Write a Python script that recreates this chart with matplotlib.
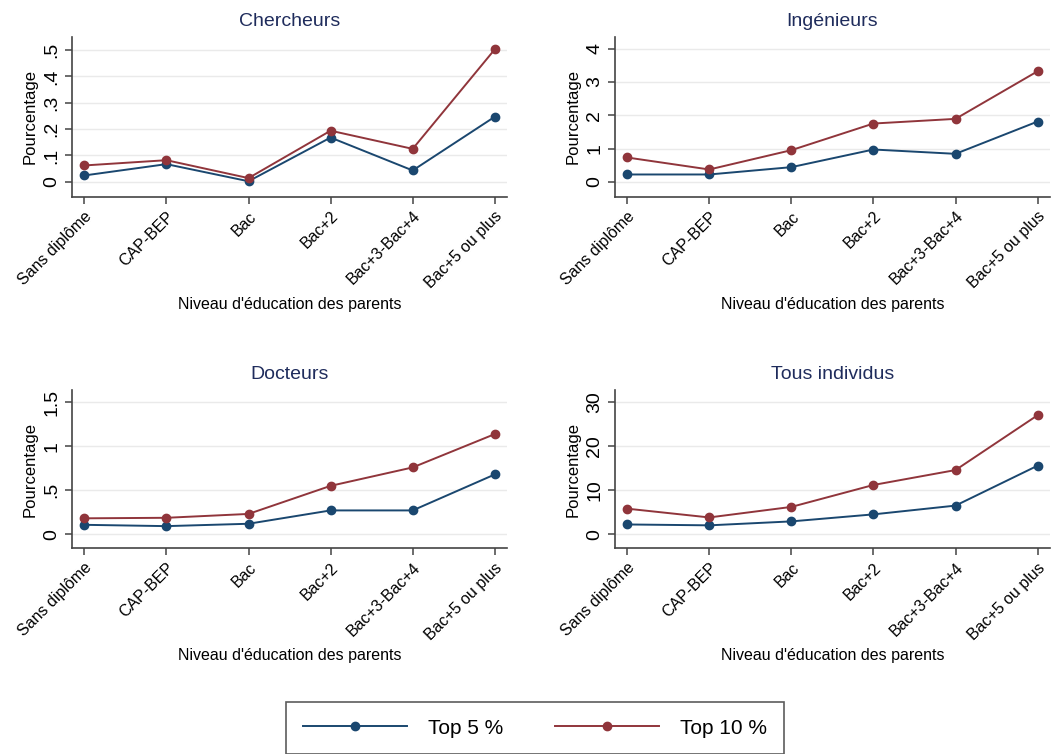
import matplotlib
matplotlib.use("Agg")
import matplotlib.pyplot as plt

plt.rcParams['font.family'] = ['Liberation Sans', 'DejaVu Sans']

categories = ['Sans diplôme', 'CAP-BEP', 'Bac', 'Bac+2', 'Bac+3-Bac+4', 'Bac+5 ou plus']

titles = ['Chercheurs', 'Ingénieurs', 'Docteurs', 'Tous individus']

chercheurs_top5 = [0.024, 0.067, 0.002, 0.168, 0.043, 0.247]
chercheurs_top10 = [0.062, 0.082, 0.014, 0.194, 0.125, 0.503]
ingenieurs_top5 = [0.22, 0.22, 0.44, 0.97, 0.84, 1.81]
ingenieurs_top10 = [0.73, 0.37, 0.95, 1.75, 1.89, 3.32]
docteurs_top5 = [0.106, 0.091, 0.118, 0.27, 0.27, 0.68]
docteurs_top10 = [0.18, 0.186, 0.23, 0.55, 0.76, 1.14]
tous_top5 = [2.2, 2.0, 2.9, 4.5, 6.5, 15.6]
tous_top10 = [5.8, 3.8, 6.2, 11.2, 14.6, 27.1]

yticks_list = [[0, 0.1, 0.2, 0.3, 0.4, 0.5], [0, 1, 2, 3, 4], [0, 0.5, 1, 1.5], [0, 10, 20, 30]]
ytick_labels = [['0', '.1', '.2', '.3', '.4', '.5'], ['0', '1', '2', '3', '4'],
                ['0', '.5', '1', '1.5'], ['0', '10', '20', '30']]
ylims = [(-0.057, 0.55), (-0.45, 4.35), (-0.16, 1.64), (-3.2, 32.8)]

series5 = [chercheurs_top5, ingenieurs_top5, docteurs_top5, tous_top5]
series10 = [chercheurs_top10, ingenieurs_top10, docteurs_top10, tous_top10]

navy = '#1a476f'
maroon = '#90353b'
title_col = '#1f2c5c'

fig = plt.figure(figsize=(10.51, 7.54), dpi=100)

positions = [[0.0685, 0.739, 0.414, 0.212], [0.585, 0.739, 0.414, 0.212],
             [0.0685, 0.273, 0.414, 0.2095], [0.585, 0.273, 0.414, 0.2095]]

x = list(range(len(categories)))
for i in range(4):
    ax = fig.add_axes(positions[i])
    l1, = ax.plot(x, series5[i], color=navy, marker='o', markersize=6, lw=1.4, label='Top 5 %')
    l2, = ax.plot(x, series10[i], color=maroon, marker='o', markersize=6, lw=1.4, label='Top 10 %')
    ax.set_xlim(-0.15, 5.15)
    ax.set_ylim(*ylims[i])
    ax.set_yticks(yticks_list[i])
    ax.set_yticklabels(ytick_labels[i], rotation=90, va='center', fontsize=14)
    ax.set_xticks(x)
    ax.set_xticklabels(categories, rotation=45, ha='right', rotation_mode='anchor', fontsize=11.5)
    ax.grid(axis='y', color='#eaeaea', lw=1)
    ax.set_axisbelow(True)
    for s in ['top', 'right']:
        ax.spines[s].set_visible(False)
    for s in ['left', 'bottom']:
        ax.spines[s].set_color('#444444')
        ax.spines[s].set_linewidth(1.2)
    ax.tick_params(colors='#444444', labelcolor='black', length=5, width=1.1)
    ax.set_ylabel('Pourcentage', fontsize=12)
    ax.set_xlabel("Niveau d'éducation des parents", fontsize=11.5)
    ax.set_title(titles[i], color=title_col, fontsize=14, pad=8)

leg = fig.legend([l1, l2], ['Top 5 %', 'Top 10 %'], loc='center',
                 bbox_to_anchor=(535 / 1051, 1 - 728 / 754), ncol=2, fontsize=15,
                 handlelength=5, fancybox=False, edgecolor='#333333',
                 borderpad=0.8, columnspacing=2.5, handletextpad=1.0)
leg.get_frame().set_linewidth(1.2)

fig.savefig('out.png', dpi=100, facecolor='white')
